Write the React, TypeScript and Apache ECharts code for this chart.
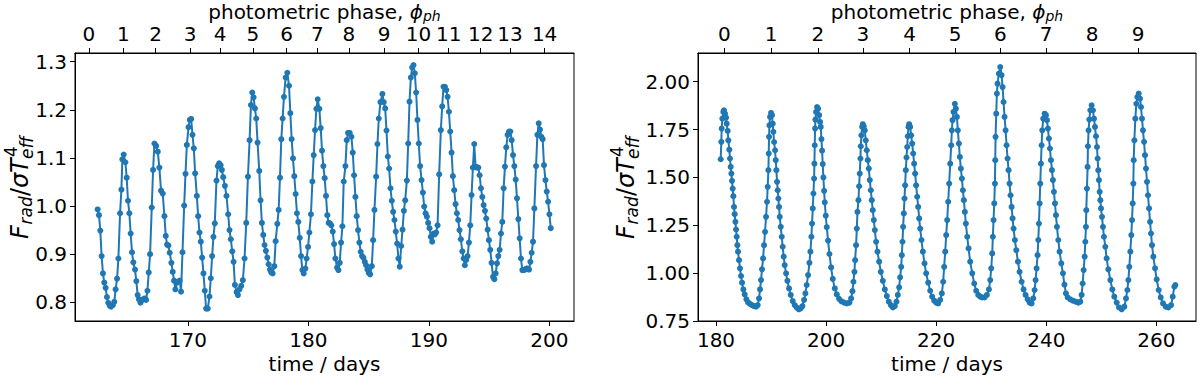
import React, { useEffect, useRef } from "react";
import * as echarts from "echarts";

// ---------- data ----------
const leftTime = [
  162.52, 162.63, 162.74, 162.85, 162.96, 163.07, 163.18, 163.29, 163.4, 163.52, 163.63, 163.77, 163.9, 164.01, 164.13, 164.24, 164.38, 164.49, 164.57, 164.68,
  164.82, 164.93, 165.04, 165.15, 165.26, 165.37, 165.48, 165.62, 165.73, 165.84, 165.95, 166.07, 166.2, 166.31, 166.43, 166.54, 166.65, 166.76, 166.87, 167.01,
  167.12, 167.23, 167.37, 167.51, 167.64, 167.78, 167.92, 168.06, 168.17, 168.28, 168.39, 168.5, 168.64, 168.75, 168.86, 168.97, 169.11, 169.22, 169.33, 169.44,
  169.56, 169.7, 169.81, 169.92, 170.06, 170.17, 170.28, 170.39, 170.5, 170.61, 170.75, 170.86, 170.97, 171.08, 171.19, 171.3, 171.41, 171.52, 171.66, 171.8,
  171.91, 172.02, 172.13, 172.24, 172.38, 172.49, 172.6, 172.72, 172.83, 172.94, 173.08, 173.21, 173.35, 173.46, 173.57, 173.69, 173.8, 173.91, 174.05, 174.16,
  174.29, 174.43, 174.57, 174.71, 174.85, 174.99, 175.13, 175.24, 175.35, 175.46, 175.57, 175.68, 175.79, 175.93, 176.04, 176.15, 176.26, 176.37, 176.48, 176.6,
  176.71, 176.82, 176.93, 177.04, 177.18, 177.29, 177.43, 177.54, 177.65, 177.76, 177.87, 177.98, 178.12, 178.26, 178.4, 178.51, 178.62, 178.73, 178.84, 178.95,
  179.06, 179.17, 179.29, 179.4, 179.51, 179.62, 179.76, 179.86, 179.98, 180.09, 180.22, 180.34, 180.45, 180.56, 180.67, 180.78, 180.92, 181.03, 181.14, 181.25,
  181.36, 181.47, 181.58, 181.69, 181.8, 181.91, 182.03, 182.14, 182.25, 182.39, 182.5, 182.61, 182.72, 182.83, 182.94, 183.08, 183.19, 183.3, 183.44, 183.58,
  183.69, 183.8, 183.91, 184.02, 184.13, 184.24, 184.35, 184.46, 184.57, 184.69, 184.8, 184.91, 185.02, 185.13, 185.27, 185.38, 185.49, 185.63, 185.74, 185.85,
  185.99, 186.15, 186.26, 186.38, 186.49, 186.6, 186.71, 186.82, 186.93, 187.04, 187.15, 187.26, 187.37, 187.48, 187.59, 187.71, 187.82, 187.93, 188.04, 188.18,
  188.29, 188.4, 188.51, 188.62, 188.73, 188.84, 188.95, 189.06, 189.17, 189.28, 189.4, 189.51, 189.62, 189.73, 189.84, 189.95, 190.06, 190.17, 190.28, 190.39,
  190.5, 190.61, 190.73, 190.86, 191.0, 191.11, 191.22, 191.34, 191.45, 191.56, 191.67, 191.78, 191.89, 192.0, 192.11, 192.22, 192.33, 192.44, 192.55, 192.66,
  192.78, 192.89, 192.99, 193.11, 193.22, 193.33, 193.44, 193.55, 193.66, 193.77, 193.88, 193.99, 194.11, 194.22, 194.33, 194.44, 194.55, 194.66, 194.77, 194.88,
  194.99, 195.1, 195.21, 195.33, 195.44, 195.55, 195.66, 195.77, 195.88, 195.99, 196.1, 196.21, 196.32, 196.43, 196.54, 196.66, 196.77, 196.88, 196.99, 197.1,
  197.21, 197.32, 197.43, 197.54, 197.65, 197.76, 197.87, 197.99, 198.1, 198.21, 198.32, 198.43, 198.54, 198.65, 198.76, 198.9, 199.01, 199.12, 199.23, 199.34,
  199.45, 199.56, 199.68, 199.79, 199.9, 200.01, 200.12,
];
const leftFlux = [
  0.993, 0.981, 0.949, 0.896, 0.86, 0.841, 0.83, 0.811, 0.799, 0.793, 0.791, 0.794, 0.801, 0.827, 0.849, 0.891, 0.985, 1.034, 1.097, 1.107,
  1.091, 1.059, 1.011, 0.985, 0.943, 0.904, 0.883, 0.868, 0.844, 0.815, 0.806, 0.799, 0.805, 0.806, 0.808, 0.805, 0.824, 0.862, 0.9, 0.997,
  1.075, 1.13, 1.125, 1.113, 1.08, 1.032, 1.026, 0.979, 0.938, 0.92, 0.918, 0.903, 0.882, 0.863, 0.845, 0.827, 0.841, 0.843, 0.845, 0.822,
  0.904, 1.001, 1.067, 1.127, 1.164, 1.179, 1.181, 1.148, 1.12, 1.068, 1.021, 0.979, 0.945, 0.926, 0.893, 0.86, 0.824, 0.787, 0.787, 0.812,
  0.85, 0.896, 0.936, 0.964, 1.053, 1.083, 1.089, 1.085, 1.075, 1.06, 1.042, 1.021, 0.983, 0.95, 0.931, 0.906, 0.884, 0.836, 0.821, 0.815,
  0.827, 0.834, 0.846, 0.891, 0.965, 1.061, 1.137, 1.21, 1.236, 1.226, 1.203, 1.182, 1.132, 1.073, 1.012, 0.965, 0.94, 0.919, 0.907, 0.893,
  0.879, 0.868, 0.862, 0.86, 0.875, 0.927, 0.963, 0.992, 1.059, 1.139, 1.182, 1.227, 1.267, 1.277, 1.25, 1.193, 1.139, 1.099, 1.062, 1.025,
  0.985, 0.967, 0.934, 0.896, 0.867, 0.86, 0.87, 0.891, 0.915, 0.945, 0.983, 1.051, 1.106, 1.158, 1.202, 1.222, 1.202, 1.162, 1.115, 1.083,
  1.058, 1.021, 0.981, 0.965, 0.964, 0.96, 0.947, 0.921, 0.891, 0.872, 0.867, 0.882, 0.924, 0.958, 1.051, 1.083, 1.137, 1.152, 1.152, 1.144,
  1.111, 1.064, 1.019, 0.979, 0.95, 0.924, 0.905, 0.896, 0.893, 0.884, 0.877, 0.868, 0.861, 0.858, 0.875, 0.929, 0.992, 1.061, 1.129, 1.182,
  1.216, 1.233, 1.216, 1.203, 1.157, 1.103, 1.078, 1.037, 1.011, 0.988, 0.971, 0.947, 0.922, 0.891, 0.874, 0.917, 0.951, 0.99, 1.012, 1.053,
  1.13, 1.217, 1.267, 1.288, 1.293, 1.276, 1.236, 1.179, 1.13, 1.083, 1.054, 1.028, 0.999, 0.985, 0.978, 0.965, 0.954, 0.936, 0.926, 0.943,
  0.941, 0.945, 0.96, 1.066, 1.158, 1.207, 1.248, 1.248, 1.241, 1.227, 1.196, 1.155, 1.111, 1.062, 1.033, 1.004, 0.985, 0.971, 0.95, 0.931,
  0.906, 0.891, 0.877, 0.888, 0.896, 0.924, 0.96, 1.023, 1.08, 1.129, 1.082, 1.08, 1.08, 1.064, 1.037, 1.019, 1.002, 0.99, 0.974, 0.951,
  0.929, 0.909, 0.882, 0.853, 0.848, 0.86, 0.881, 0.896, 0.909, 0.943, 0.967, 1.037, 1.082, 1.122, 1.148, 1.155, 1.155, 1.137, 1.106, 1.083,
  1.055, 1.016, 0.973, 0.933, 0.891, 0.867, 0.867, 0.868, 0.87, 0.87, 0.868, 0.884, 0.903, 0.926, 0.995, 1.083, 1.148, 1.172, 1.159, 1.144,
  1.139, 1.085, 1.054, 1.03, 1.009, 0.983, 0.954,
];

const rightTime = [
  180.85, 180.97, 181.03, 181.15, 181.33, 181.45, 181.64, 181.82, 181.94, 182.12, 182.24, 182.42, 182.54, 182.67, 182.79, 182.91, 183.03, 183.15, 183.27, 183.39,
  183.52, 183.64, 183.76, 183.88, 184.0, 184.18, 184.36, 184.55, 184.73, 184.97, 185.21, 185.52, 185.82, 186.18, 186.54, 186.91, 187.27, 187.58, 187.82, 188.0,
  188.18, 188.36, 188.55, 188.73, 188.91, 189.09, 189.27, 189.39, 189.52, 189.58, 189.64, 189.7, 189.82, 190.0, 190.18, 190.3, 190.42, 190.55, 190.73, 190.85,
  190.97, 191.09, 191.21, 191.33, 191.45, 191.58, 191.76, 191.94, 192.12, 192.3, 192.48, 192.73, 192.97, 193.27, 193.58, 193.94, 194.3, 194.67, 195.03, 195.39,
  195.7, 196.0, 196.24, 196.48, 196.73, 196.97, 197.15, 197.33, 197.45, 197.58, 197.7, 197.82, 197.88, 197.94, 198.0, 198.06, 198.18, 198.36, 198.55, 198.73,
  198.91, 199.03, 199.15, 199.27, 199.39, 199.51, 199.64, 199.76, 199.94, 200.12, 200.36, 200.61, 200.91, 201.21, 201.58, 201.94, 202.36, 202.79, 203.27, 203.76,
  204.24, 204.55, 204.79, 204.97, 205.15, 205.27, 205.45, 205.58, 205.7, 205.88, 206.0, 206.12, 206.24, 206.3, 206.42, 206.55, 206.67, 206.85, 207.03, 207.21,
  207.39, 207.58, 207.76, 207.94, 208.12, 208.3, 208.48, 208.67, 208.85, 209.09, 209.33, 209.64, 209.94, 210.3, 210.67, 211.03, 211.39, 211.76, 212.12, 212.48,
  212.79, 213.03, 213.27, 213.45, 213.64, 213.76, 213.88, 214.0, 214.12, 214.24, 214.36, 214.48, 214.61, 214.73, 214.85, 214.97, 215.09, 215.27, 215.45, 215.64,
  215.82, 216.0, 216.18, 216.36, 216.55, 216.73, 216.91, 217.09, 217.33, 217.58, 217.88, 218.18, 218.55, 218.91, 219.27, 219.64, 220.0, 220.36, 220.73, 221.03,
  221.27, 221.45, 221.64, 221.82, 222.0, 222.18, 222.36, 222.55, 222.73, 222.85, 222.97, 223.15, 223.39, 223.58, 223.76, 223.94, 224.12, 224.3, 224.48, 224.67,
  224.85, 225.03, 225.21, 225.39, 225.64, 225.88, 226.18, 226.55, 226.91, 227.27, 227.64, 228.0, 228.36, 228.79, 229.21, 229.58, 229.82, 230.0, 230.18, 230.3,
  230.42, 230.55, 230.67, 230.73, 230.79, 230.91, 231.03, 231.15, 231.39, 231.64, 231.88, 232.06, 232.24, 232.42, 232.61, 232.79, 232.97, 233.15, 233.33, 233.51,
  233.7, 233.88, 234.06, 234.3, 234.55, 234.85, 235.15, 235.52, 235.88, 236.24, 236.61, 236.97, 237.33, 237.64, 237.88, 238.06, 238.24, 238.42, 238.55, 238.67,
  238.79, 238.91, 239.03, 239.15, 239.27, 239.45, 239.7, 239.94, 240.12, 240.3, 240.48, 240.67, 240.85, 241.03, 241.21, 241.39, 241.58, 241.76, 241.94, 242.18,
  242.42, 242.73, 243.03, 243.3, 243.57, 243.88, 244.36, 244.85, 245.33, 245.82, 246.18, 246.42, 246.6, 246.79, 246.97, 247.09, 247.21, 247.27, 247.39, 247.51,
  247.57, 247.69, 247.82, 248.0, 248.24, 248.48, 248.67, 248.85, 249.03, 249.21, 249.33, 249.45, 249.57, 249.7, 249.82, 249.94, 250.12, 250.3, 250.48, 250.73,
  250.97, 251.27, 251.64, 252.0, 252.36, 252.79, 253.21, 253.7, 254.18, 254.48, 254.73, 254.91, 255.09, 255.27, 255.45, 255.58, 255.7, 255.82, 255.88, 256.0,
  256.18, 256.36, 256.55, 256.79, 257.03, 257.21, 257.39, 257.57, 257.76, 257.94, 258.12, 258.3, 258.48, 258.67, 258.85, 259.03, 259.21, 259.45, 259.76, 260.06,
  260.42, 260.79, 261.21, 261.7, 262.18, 262.67, 262.97, 263.27, 263.45,
];
const rightFlux = [
  1.595, 1.686, 1.755, 1.807, 1.842, 1.851, 1.833, 1.812, 1.781, 1.743, 1.694, 1.645, 1.599, 1.555, 1.52, 1.482, 1.442, 1.402, 1.346, 1.308,
  1.268, 1.228, 1.19, 1.146, 1.112, 1.068, 1.025, 0.985, 0.95, 0.915, 0.889, 0.863, 0.847, 0.839, 0.833, 0.828, 0.825, 0.833, 0.868, 0.915,
  0.964, 1.02, 1.077, 1.146, 1.216, 1.294, 1.373, 1.451, 1.538, 1.625, 1.712, 1.772, 1.816, 1.837, 1.825, 1.781, 1.738, 1.685, 1.642, 1.59,
  1.538, 1.477, 1.433, 1.39, 1.346, 1.294, 1.242, 1.19, 1.138, 1.086, 1.042, 0.999, 0.96, 0.92, 0.886, 0.854, 0.833, 0.82, 0.811, 0.816,
  0.828, 0.86, 0.894, 0.938, 0.99, 1.054, 1.112, 1.19, 1.259, 1.338, 1.416, 1.494, 1.572, 1.668, 1.755, 1.802, 1.842, 1.868, 1.859, 1.825,
  1.79, 1.764, 1.7, 1.64, 1.57, 1.5, 1.43, 1.37, 1.3, 1.24, 1.17, 1.1, 1.03, 0.97, 0.92, 0.889, 0.866, 0.853, 0.846, 0.842,
  0.846, 0.868, 0.906, 0.955, 1.007, 1.068, 1.146, 1.233, 1.32, 1.381, 1.454, 1.52, 1.599, 1.663, 1.72, 1.764, 1.778, 1.767, 1.746, 1.694,
  1.642, 1.59, 1.546, 1.486, 1.433, 1.381, 1.329, 1.277, 1.225, 1.164, 1.112, 1.06, 1.007, 0.96, 0.915, 0.88, 0.851, 0.833, 0.821, 0.828,
  0.851, 0.886, 0.926, 0.978, 1.033, 1.094, 1.164, 1.242, 1.312, 1.39, 1.459, 1.538, 1.604, 1.659, 1.715, 1.764, 1.778, 1.764, 1.72, 1.677,
  1.625, 1.572, 1.52, 1.459, 1.399, 1.346, 1.286, 1.233, 1.173, 1.112, 1.051, 0.999, 0.95, 0.908, 0.877, 0.856, 0.846, 0.842, 0.86, 0.894,
  0.955, 1.033, 1.112, 1.199, 1.277, 1.373, 1.468, 1.572, 1.668, 1.746, 1.799, 1.842, 1.885, 1.859, 1.816, 1.746, 1.677, 1.607, 1.546, 1.494,
  1.433, 1.381, 1.32, 1.259, 1.19, 1.129, 1.06, 0.999, 0.946, 0.908, 0.886, 0.877, 0.873, 0.873, 0.886, 0.915, 0.964, 1.025, 1.103, 1.19,
  1.277, 1.364, 1.468, 1.59, 1.712, 1.833, 1.938, 1.99, 2.042, 2.077, 2.034, 1.972, 1.894, 1.816, 1.746, 1.668, 1.599, 1.538, 1.468, 1.407,
  1.346, 1.286, 1.233, 1.173, 1.12, 1.06, 1.007, 0.955, 0.915, 0.886, 0.863, 0.846, 0.842, 0.868, 0.912, 0.964, 1.025, 1.094, 1.173, 1.259,
  1.364, 1.468, 1.572, 1.668, 1.746, 1.807, 1.833, 1.825, 1.799, 1.755, 1.703, 1.651, 1.59, 1.538, 1.486, 1.425, 1.364, 1.303, 1.242, 1.173,
  1.112, 1.051, 0.999, 0.94, 0.894, 0.873, 0.863, 0.856, 0.851, 0.846, 0.851, 0.886, 0.946, 1.016, 1.086, 1.164, 1.242, 1.329, 1.442, 1.555,
  1.663, 1.746, 1.802, 1.851, 1.877, 1.851, 1.807, 1.764, 1.715, 1.659, 1.599, 1.538, 1.486, 1.425, 1.381, 1.338, 1.294, 1.242, 1.19, 1.138,
  1.077, 1.02, 0.964, 0.915, 0.877, 0.846, 0.821, 0.811, 0.825, 0.868, 0.912, 0.964, 1.033, 1.112, 1.199, 1.277, 1.364, 1.468, 1.59, 1.694,
  1.807, 1.885, 1.92, 1.938, 1.912, 1.868, 1.807, 1.746, 1.686, 1.616, 1.546, 1.477, 1.407, 1.338, 1.268, 1.207, 1.146, 1.086, 1.025, 0.967,
  0.912, 0.873, 0.842, 0.825, 0.821, 0.833, 0.877, 0.929, 0.938,
];

// bottom-axis ticks
const leftTimeTicks = [170, 180, 190, 200];
const rightTimeTicks = [180, 200, 220, 240, 260];
const leftFluxTicks = [0.8, 0.9, 1.0, 1.1, 1.2, 1.3];
const rightFluxTicks = [0.75, 1.0, 1.25, 1.5, 1.75, 2.0];

// photometric phase ticks (time at which each phase starts)
const leftPhaseTimes = [161.8, 164.66, 167.32, 170.2, 172.69, 175.4, 178.21, 180.76, 183.36, 186.3, 189.14, 191.65, 194.31, 196.73, 199.61];
const leftPhaseLabels = ["0", "1", "2", "3", "4", "5", "6", "7", "8", "9", "10", "11", "12", "13", "14"];
const rightPhaseTimes = [181.51, 190.0, 198.49, 206.67, 215.15, 223.45, 231.64, 239.95, 248.31, 256.67];
const rightPhaseLabels = ["0", "1", "2", "3", "4", "5", "6", "7", "8", "9"];

const FONT = "DejaVu Sans";
const BLUE = "#1f77b4";

function nearestLabel(times: number[], labels: string[], v: number) {
  let best = 0;
  let d = Infinity;
  times.forEach((t, i) => {
    const dd = Math.abs(t - v);
    if (dd < d) {
      d = dd;
      best = i;
    }
  });
  return labels[best];
}

function zip(a: number[], b: number[]) {
  return a.map((t, i) => [t, b[i]]);
}

// y-axis title F_rad / sigma T^4_eff, drawn as a rotated group (reads bottom-to-top)
function yTitle(cx: number, cy: number) {
  const M = 24; // main font size
  const S = 17; // script font size
  const it = (t: string, x: number, y: number, size: number, italic = true) => ({
    type: "text",
    x,
    y,
    silent: true,
    style: {
      text: t,
      fontSize: size,
      fontFamily: FONT,
      fontStyle: italic ? "italic" : "normal",
      fill: "#000",
      align: "left",
      verticalAlign: "middle",
    },
  });
  const x0 = -52;
  return {
    type: "group",
    x: cx,
    y: cy,
    rotation: Math.PI / 2,
    silent: true,
    children: [
      it("F", x0, 0, M),
      it("rad", x0 + 14.5, 6, S),
      it("/", x0 + 43, 0, M, false),
      it("σ", x0 + 51, 0, M),
      it("T", x0 + 66, 0, M),
      it("4", x0 + 82, -9, S, false),
      it("eff", x0 + 80, 7, S),
    ],
  };
}

export default function App() {
  const ref = useRef<HTMLDivElement>(null);

  useEffect(() => {
    if (!ref.current) return;
    const chart = echarts.init(ref.current, undefined, { renderer: "svg" });

    const tickStyle = { show: true, length: 5, inside: false, lineStyle: { color: "#000", width: 1 } };
    const lineStyle = { show: true, onZero: false, lineStyle: { color: "#000", width: 1 } };
    const labelBase = { color: "#000", fontSize: 20, fontFamily: FONT };

    const grids = [
      { left: 75, top: 53, width: 499, height: 268 },
      { left: 698, top: 53, width: 498, height: 268 },
    ].map((g) => ({ ...g, show: true, borderColor: "#000", borderWidth: 1, containLabel: false }));

    const xLim = [
      [160.64, 202.05],
      [176.73, 267.2],
    ];

    const xAxis: any[] = [
      {
        gridIndex: 0, type: "value", position: "bottom", min: xLim[0][0], max: xLim[0][1],
        axisLine: lineStyle, splitLine: { show: false },
        axisTick: { ...tickStyle, customValues: leftTimeTicks },
        axisLabel: { ...labelBase, margin: 9, customValues: leftTimeTicks, formatter: (v: number) => String(Math.round(v)) },
      },
      {
        gridIndex: 0, type: "value", position: "top", min: xLim[0][0], max: xLim[0][1],
        axisLine: lineStyle, splitLine: { show: false },
        axisTick: { ...tickStyle, customValues: leftPhaseTimes },
        axisLabel: { ...labelBase, margin: 9, customValues: leftPhaseTimes, formatter: (v: number) => nearestLabel(leftPhaseTimes, leftPhaseLabels, v) },
      },
      {
        gridIndex: 1, type: "value", position: "bottom", min: xLim[1][0], max: xLim[1][1],
        axisLine: lineStyle, splitLine: { show: false },
        axisTick: { ...tickStyle, customValues: rightTimeTicks },
        axisLabel: { ...labelBase, margin: 9, customValues: rightTimeTicks, formatter: (v: number) => String(Math.round(v)) },
      },
      {
        gridIndex: 1, type: "value", position: "top", min: xLim[1][0], max: xLim[1][1],
        axisLine: lineStyle, splitLine: { show: false },
        axisTick: { ...tickStyle, customValues: rightPhaseTimes },
        axisLabel: { ...labelBase, margin: 9, customValues: rightPhaseTimes, formatter: (v: number) => nearestLabel(rightPhaseTimes, rightPhaseLabels, v) },
      },
    ];

    const yAxis: any[] = [
      {
        gridIndex: 0, type: "value", min: 0.7611, max: 1.3181,
        axisLine: lineStyle, splitLine: { show: false },
        axisTick: { ...tickStyle, customValues: leftFluxTicks },
        axisLabel: { ...labelBase, margin: 8, customValues: leftFluxTicks, formatter: (v: number) => v.toFixed(1) },
      },
      {
        gridIndex: 1, type: "value", min: 0.75, max: 2.15,
        axisLine: lineStyle, splitLine: { show: false },
        axisTick: { ...tickStyle, customValues: rightFluxTicks },
        axisLabel: { ...labelBase, margin: 8, customValues: rightFluxTicks, formatter: (v: number) => v.toFixed(2) },
      },
    ];

    const mkSeries = (t: number[], f: number[], idx: number) => ({
      type: "line",
      xAxisIndex: idx * 2,
      yAxisIndex: idx,
      data: zip(t, f),
      symbol: "circle",
      symbolSize: 6,
      showSymbol: true,
      showAllSymbol: true,
      lineStyle: { color: BLUE, width: 2 },
      itemStyle: { color: BLUE, borderWidth: 0 },
      silent: true,
      clip: false,
    });

    const phaseRich = {
      n: { fontSize: 20, fontFamily: FONT, fill: "#000" },
      i: { fontSize: 20, fontFamily: FONT, fontStyle: "italic", fill: "#000" },
      s: { fontSize: 14, fontFamily: FONT, fontStyle: "italic", fill: "#000", padding: [8, 0, 0, 0] },
    };
    const phaseText = "{n|photometric phase, }{i|ϕ}{s|ph}";

    const titles = [324.5, 947].map((cx) => ({
      type: "text", x: cx, y: 12, silent: true,
      style: { text: phaseText, rich: phaseRich, align: "center", verticalAlign: "middle" },
    }));
    const xTitles = [324.5, 947].map((cx) => ({
      type: "text", x: cx, y: 364, silent: true,
      style: { text: "time / days", fontSize: 20, fontFamily: FONT, fill: "#000", align: "center", verticalAlign: "middle" },
    }));
    const yTitles = [yTitle(20, 187), yTitle(626, 187)];

    chart.setOption({
      animation: false,
      backgroundColor: "#fff",
      grid: grids,
      xAxis,
      yAxis,
      series: [mkSeries(leftTime, leftFlux, 0), mkSeries(rightTime, rightFlux, 1)],
      graphic: [...titles, ...xTitles, ...yTitles],
    });

    return () => chart.dispose();
  }, []);

  return (
    <div
      ref={ref}
      style={{ position: "absolute", left: 0, top: 0, width: 1200, height: 380, background: "#fff" }}
    />
  );
}
